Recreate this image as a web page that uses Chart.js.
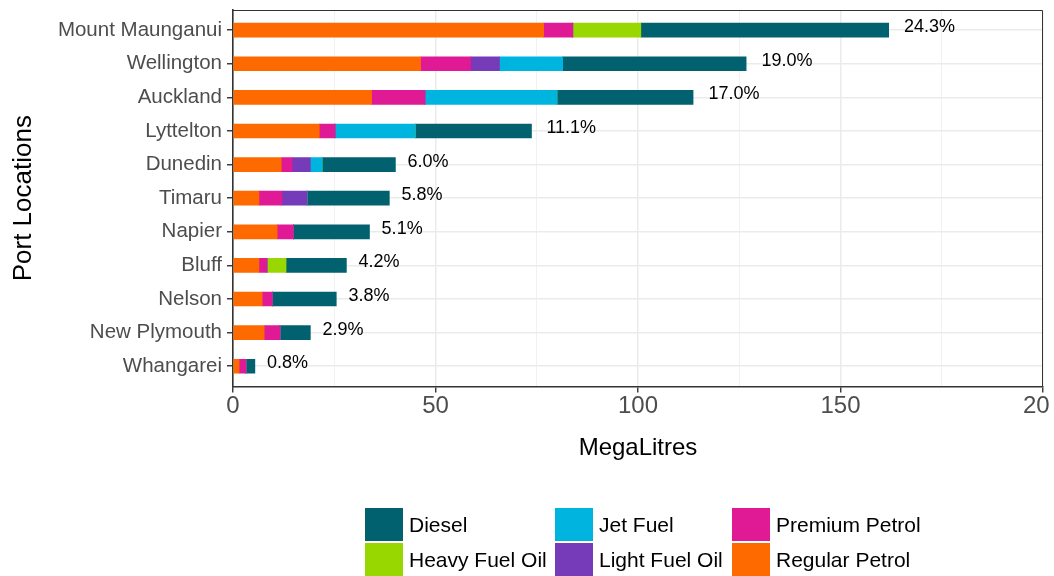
<!DOCTYPE html>
<html>
<head>
<meta charset="utf-8">
<script src="https://cdn.jsdelivr.net/npm/chart.js@4"></script>
<style>
  body { margin: 0; background: #fff; font-family: "Liberation Sans", Arial, sans-serif; }
  #wrap { position: relative; width: 1054px; height: 576px; overflow: hidden; }
  #legend { position: absolute; left: 365px; top: 508px; display: grid;
            grid-template-columns: 190px 177px auto; row-gap: 2px; }
  .item { display: flex; align-items: center; height: 33px; font-size: 21px; color: #000; }
  .key { width: 38px; height: 33px; margin-right: 6px; flex: none; }
  /* the reference picture is cut just after "20" of the last tick */
  #edge { position: absolute; left: 1049px; top: 389px; width: 5px; height: 36px; background: #fff; }
</style>
</head>
<body>
<div id="wrap">
  <canvas id="fuelChart" width="1054" height="576"></canvas>
  <div id="edge"></div>
  <div id="legend"></div>
</div>
<script>
// port locations, top to bottom
const ports = ['Mount Maunganui', 'Wellington', 'Auckland', 'Lyttelton', 'Dunedin', 'Timaru',
               'Napier', 'Bluff', 'Nelson', 'New Plymouth', 'Whangarei'];

// megalitres per fuel type
const regularPetrol = [76.7, 46.3, 34.2, 21.3, 11.9, 6.4, 10.9, 6.4, 7.2, 7.7, 1.5];
const premiumPetrol = [7.2, 12.4, 13.2, 3.9, 2.7, 5.7, 4.0, 2.0, 2.5, 3.9, 1.7];
const lightFuelOil  = [0, 7.1, 0, 0, 4.5, 6.2, 0, 0, 0, 0, 0];
const jetFuel       = [0, 15.6, 32.6, 19.8, 2.9, 0, 0, 0, 0, 0, 0];
const heavyFuelOil  = [16.8, 0, 0, 0, 0, 0, 0, 4.7, 0, 0, 0];
const diesel        = [61.2, 45.3, 33.6, 28.7, 18.1, 20.3, 18.8, 14.9, 15.8, 7.5, 2.2];

const shareLabels = ['24.3%', '19.0%', '17.0%', '11.1%', '6.0%', '5.8%', '5.1%', '4.2%', '3.8%', '2.9%', '0.8%'];

const xTicks = [0, 50, 100, 150, 200];

const colours = {
  'Diesel': '#02616F',
  'Heavy Fuel Oil': '#98D800',
  'Jet Fuel': '#00B4E0',
  'Light Fuel Oil': '#753BB8',
  'Premium Petrol': '#DF1A94',
  'Regular Petrol': '#FF6A00'
};

// stacking order left to right
const stack = [
  ['Regular Petrol', regularPetrol],
  ['Premium Petrol', premiumPetrol],
  ['Light Fuel Oil', lightFuelOil],
  ['Jet Fuel', jetFuel],
  ['Heavy Fuel Oil', heavyFuelOil],
  ['Diesel', diesel]
];

// legend order (ggplot fills column by column, two rows)
const legendOrder = ['Diesel', 'Jet Fuel', 'Premium Petrol', 'Heavy Fuel Oil', 'Light Fuel Oil', 'Regular Petrol'];

const FONT = '"Liberation Sans", Arial, sans-serif';

const shareLabelPlugin = {
  id: 'shareLabels',
  afterDatasetsDraw(chart) {
    const ctx = chart.ctx;
    const xs = chart.scales.x, ys = chart.scales.y;
    ctx.save();
    ctx.font = '18px ' + FONT;
    ctx.fillStyle = '#000';
    ctx.textAlign = 'left';
    ctx.textBaseline = 'middle';
    ports.forEach((p, i) => {
      let total = 0;
      stack.forEach(s => { total += s[1][i]; });
      const end = xs.getPixelForValue(total);
      const w = ctx.measureText(shareLabels[i]).width;
      ctx.fillText(shareLabels[i], end - 1 + 0.32 * w, ys.getPixelForValue(i) - 3);
    });
    ctx.restore();
  }
};

const framePlugin = {
  id: 'frame',
  afterDraw(chart) {
    const a = chart.chartArea, ctx = chart.ctx;
    ctx.save();
    ctx.strokeStyle = '#333';
    ctx.lineWidth = 1;
    ctx.beginPath();
    ctx.moveTo(a.left, a.top + 0.5);
    ctx.lineTo(a.right - 0.5, a.top + 0.5);
    ctx.lineTo(a.right - 0.5, a.bottom);
    ctx.stroke();
    ctx.restore();
  }
};

var ctx = document.getElementById('fuelChart').getContext('2d');
var fuelChart = new Chart(ctx, {
  type: 'bar',
  data: {
    labels: ports,
    datasets: stack.map(s => ({
      label: s[0],
      data: s[1],
      backgroundColor: colours[s[0]],
      borderWidth: 0,
      barThickness: 14
    }))
  },
  options: {
    indexAxis: 'y',
    responsive: false,
    animation: false,
    layout: { padding: { top: 10, right: 11, bottom: 109, left: 0 } },
    plugins: { legend: { display: false }, tooltip: { enabled: false } },
    scales: {
      x: {
        stacked: true,
        min: 0,
        max: 200,
        afterBuildTicks: (s) => {
          s.ticks = [];
          for (let v = 0; v <= 200; v += 25) s.ticks.push({ value: v });
        },
        afterFit: (s) => { s.paddingLeft = 0; s.paddingRight = 0; },
        ticks: {
          autoSkip: false,
          maxRotation: 0,
          padding: 0,
          color: '#4D4D4D',
          font: { family: FONT, size: 24 },
          callback: (v) => xTicks.includes(v) ? String(v) : ''
        },
        grid: {
          color: '#EBEBEB',
          lineWidth: (c) => xTicks.includes(c.tick && c.tick.value) ? 1.5 : 0.7,
          tickColor: (c) => xTicks.includes(c.tick && c.tick.value) ? '#333' : 'rgba(0,0,0,0)',
          tickLength: 6,
          tickWidth: 1.4
        },
        border: { color: '#333', width: 1.6 },
        title: {
          display: true,
          text: 'MegaLitres',
          color: '#000',
          font: { family: FONT, size: 24 },
          padding: { top: 13, bottom: 4 }
        }
      },
      y: {
        stacked: true,
        offset: true,
        afterBuildTicks: (s) => {
          // ggplot style discrete expansion of 0.6 on each side
          s._startValue = -0.6;
          s._valueRange = ports.length - 1 + 1.2;
        },
        afterFit: (s) => { s.width = 233; s.paddingTop = 0; s.paddingBottom = 0; },
        ticks: {
          autoSkip: false,
          padding: 5,
          color: '#4D4D4D',
          font: { family: FONT, size: 20.5 }
        },
        grid: {
          offset: false,
          color: '#EBEBEB',
          lineWidth: 1.5,
          tickColor: '#333',
          tickLength: 6,
          tickWidth: 1.4
        },
        border: { color: '#333', width: 1.6 },
        title: {
          display: true,
          text: 'Port Locations',
          color: '#000',
          font: { family: FONT, size: 26 },
          padding: { top: 8, bottom: 0 }
        }
      }
    }
  },
  plugins: [shareLabelPlugin, framePlugin]
});

document.getElementById('legend').innerHTML = legendOrder.map(name =>
  `<div class="item"><span class="key" style="background:${colours[name]}"></span>${name}</div>`
).join('');
</script>
</body>
</html>
